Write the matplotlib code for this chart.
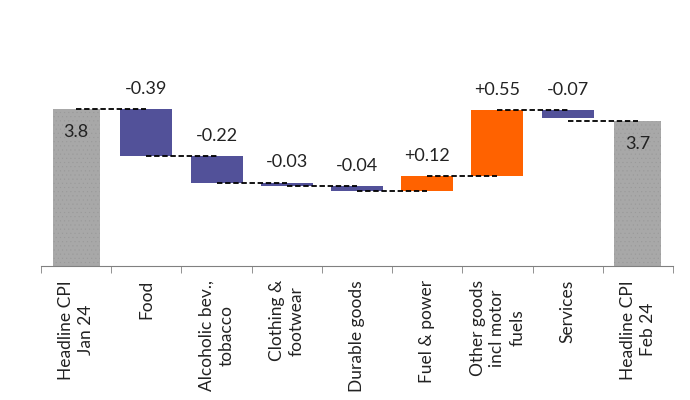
import matplotlib.pyplot as plt
import numpy as np

categories = ['Headline CPI\nJan 24', 'Food', 'Alcoholic bev.,\ntobacco', 'Clothing &\nfootwear',
              'Durable goods', 'Fuel & power', 'Other goods\nincl motor\nfuels', 'Services',
              'Headline CPI\nFeb 24']
start_value = 3.8
end_value = 3.7
changes = [-0.39, -0.22, -0.03, -0.04, 0.12, 0.55, -0.07]
change_labels = ['-0.39', '-0.22', '-0.03', '-0.04', '+0.12', '+0.55', '-0.07']

purple = '#525199'
orange = '#FF6200'
grey = '#A8A8A8'
base = 2.5

plt.rcParams['font.family'] = ['Lato', 'DejaVu Sans']
plt.rcParams['hatch.color'] = '#999999'
plt.rcParams['hatch.linewidth'] = 0.3

fig = plt.figure(figsize=(6.9, 4), dpi=100)
ax = fig.add_axes([41 / 690, 134 / 400, 632 / 690, 254 / 400])

x = np.arange(len(categories))

# totals
for xi, val, lab in [(0, start_value, '3.8'), (len(categories) - 1, end_value, '3.7')]:
    ax.bar(xi, val - base, bottom=base, width=0.67, color=grey, hatch='....', linewidth=0)
    ax.annotate(lab, (xi, val), xytext=(0, -16.5), textcoords='offset points',
                ha='center', va='center', fontsize=13, color='#222222')

# changes
level = start_value
levels = [level]
for i, c in enumerate(changes):
    new = level + c
    col = orange if c > 0 else purple
    ax.bar(i + 1, c, bottom=level, width=0.74, color=col, linewidth=0)
    ax.annotate(change_labels[i], (i + 1, max(level, new)), xytext=(0, 14.5), textcoords='offset points',
                ha='center', va='center', fontsize=13, color='#222222')
    level = new
    levels.append(level)

# connectors from bar centre to next bar centre
levels[-1] = end_value
for i in range(len(categories) - 1):
    ax.plot([i, i + 1], [levels[i], levels[i]], color='black', linestyle=(0, (3, 1.5)),
            linewidth=1.3, zorder=3)

ax.set_xlim(-0.5, len(categories) - 0.5)
ax.set_ylim(base, 4.6)
for s in ['top', 'right', 'left']:
    ax.spines[s].set_visible(False)
ax.spines['bottom'].set_color('#808080')
ax.set_yticks([])
ax.set_xticks(x)
ax.set_xticklabels(categories, rotation=90, fontsize=12.5, color='#222222', linespacing=1.3)
ax.tick_params(axis='x', which='major', length=0, pad=10)
ax.set_xticks(np.arange(-0.5, len(categories)), minor=True)
ax.tick_params(axis='x', which='minor', length=5, color='#808080')

fig.savefig('out.png', dpi=100)
